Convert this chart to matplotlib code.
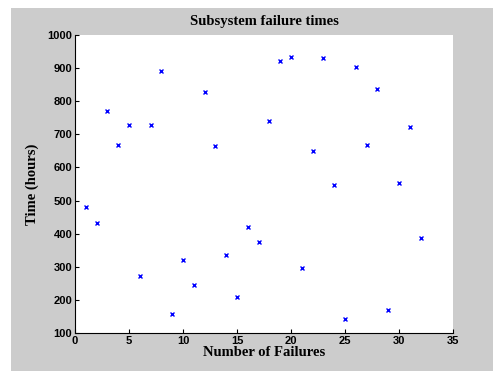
import matplotlib
matplotlib.use("Agg")
import matplotlib.pyplot as plt
from matplotlib.patches import Rectangle

# failure number and observed time (hours)
failures = list(range(1, 33))
times = [481, 431, 770, 667, 727, 273, 727, 890, 158, 320,
         244, 827, 664, 336, 208, 421, 376, 741, 920, 935,
         296, 651, 930, 546, 141, 903, 669, 837, 170, 554,
         722, 386]

x_ticks = [0, 5, 10, 15, 20, 25, 30, 35]
y_ticks = [100, 200, 300, 400, 500, 600, 700, 800, 900, 1000]

W, H = 493, 371
fig = plt.figure(figsize=(W / 100, H / 100), dpi=100)
fig.patch.set_facecolor("white")

# gray MATLAB-style figure panel
fig.patches.append(Rectangle((11 / W, 0), 1 - 11 / W, 1 - 8 / H,
                             transform=fig.transFigure, facecolor="#cccccc",
                             edgecolor="none", zorder=-10))

ax = fig.add_axes([75 / W, 1 - 333 / H, (453 - 75) / W, (333 - 35) / H])
ax.set_facecolor("white")

ax.plot(failures, times, linestyle="none", marker="x", color="#0000ff",
        markersize=3.5, markeredgewidth=1.0)

ax.set_xlim(0, 35)
ax.set_ylim(100, 1000)
ax.set_xticks(x_ticks)
ax.set_yticks(y_ticks)

tick_font = dict(family="Liberation Sans", weight="bold", size=8)
ax.set_xticklabels([str(t) for t in x_ticks], fontdict=tick_font)
ax.set_yticklabels([str(t) for t in y_ticks], fontdict=tick_font)
ax.tick_params(direction="in", length=3, width=0.8, pad=2, colors="black")

for side in ["top", "right"]:
    ax.spines[side].set_visible(False)
for side in ["left", "bottom"]:
    ax.spines[side].set_color("black")
    ax.spines[side].set_linewidth(0.8)

label_font = dict(family="Liberation Serif", weight="bold", size=10.5)
ax.set_title("Subsystem failure times", fontdict=label_font, pad=7)
ax.set_xlabel("Number of Failures", fontdict=label_font, labelpad=0)
ax.set_ylabel("Time (hours)", fontdict=label_font, labelpad=6)

fig.savefig("out.png", dpi=100, facecolor=fig.get_facecolor())
